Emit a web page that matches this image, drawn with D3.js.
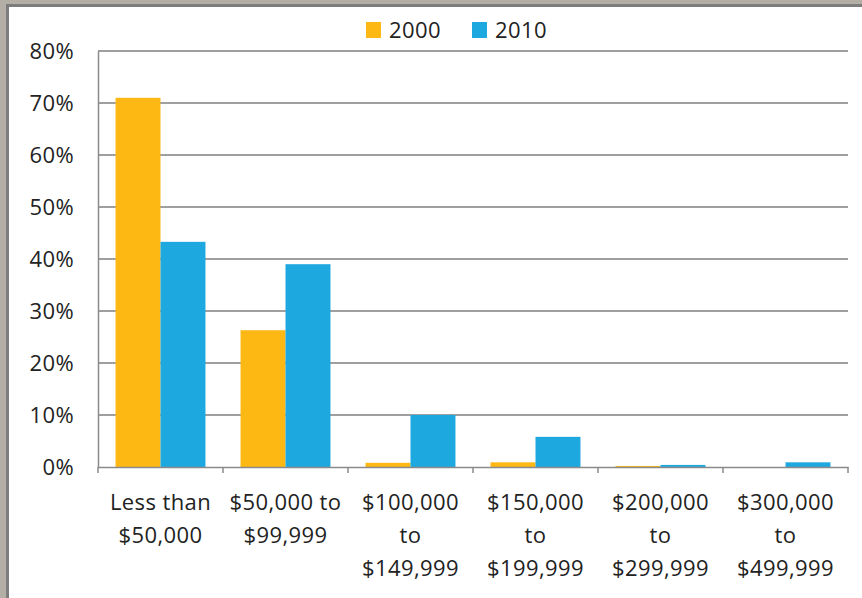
<!DOCTYPE html>
<html>
<head>
<meta charset="utf-8">
<script src="https://cdn.jsdelivr.net/npm/d3@7"></script>
<style>
  body { margin: 0; background: #bdb8b0; }
  svg { display: block; }
  text { font-family: "Open Sans", "Noto Sans", sans-serif; fill: #222; }
</style>
</head>
<body>
<div id="chart"></div>
<script>
// data
const categories = [
  ["Less than", "$50,000"],
  ["$50,000 to", "$99,999"],
  ["$100,000", "to", "$149,999"],
  ["$150,000", "to", "$199,999"],
  ["$200,000", "to", "$299,999"],
  ["$300,000", "to", "$499,999"]
];
const seriesNames = ["2000", "2010"];
const values2000 = [71.0, 26.3, 0.8, 0.9, 0.2, 0.0];
const values2010 = [43.3, 39.0, 10.0, 5.8, 0.4, 0.9];
const yTicks = [0, 10, 20, 30, 40, 50, 60, 70, 80];
const colors = ["#fdb813", "#1ea8e0"];

const width = 862, height = 598;
const margin = {top: 51, right: 14, bottom: 131, left: 98};
const fontSize = "22px";

const svg = d3.select("#chart").append("svg")
    .attr("width", width)
    .attr("height", height);

// frame and white panel
svg.append("rect").attr("width", width).attr("height", height).attr("fill", "#b3aea6");
svg.append("rect").attr("x", 6).attr("y", 4).attr("width", width).attr("height", height)
    .attr("fill", "#7d7d7d");
svg.append("rect").attr("x", 9).attr("y", 7).attr("width", width).attr("height", height)
    .attr("fill", "#ffffff");

const x0 = d3.scaleBand()
    .domain(d3.range(categories.length))
    .range([margin.left, width - margin.right])
    .paddingInner(0)
    .paddingOuter(0);

const x1 = d3.scaleBand()
    .domain(seriesNames)
    .range([0, x0.bandwidth()])
    .paddingInner(0)
    .paddingOuter(0.39);

const y = d3.scaleLinear()
    .domain([0, 80])
    .range([height - margin.bottom, margin.top]);

// gridlines
svg.append("g")
    .selectAll("line")
    .data(yTicks.filter(d => d > 0))
    .enter()
    .append("line")
    .attr("x1", margin.left)
    .attr("x2", width - margin.right)
    .attr("y1", d => y(d))
    .attr("y2", d => y(d))
    .attr("stroke", "#7f7f7f")
    .attr("stroke-width", 1.5);

// y axis
let yAxis = d3.axisLeft(y)
    .tickValues(yTicks)
    .tickSize(0)
    .tickPadding(24)
    .tickFormat(d => d + "%");
let gy = svg.append("g")
    .attr("transform", "translate(" + margin.left + ",0)")
    .call(yAxis);
gy.select(".domain").attr("stroke", "#8a8a8a").attr("stroke-width", 1.5);
gy.selectAll("text")
    .style("font-size", fontSize)
    .style("letter-spacing", "0.4px")
    .attr("fill", "#222");

// bars
const rows = categories.map((c, i) => ({i: i, vals: [values2000[i], values2010[i]]}));
let groups = svg.append("g")
    .selectAll("g")
    .data(rows)
    .enter()
    .append("g")
    .attr("transform", d => "translate(" + x0(d.i) + ",0)");

groups.selectAll("rect")
    .data(d => d.vals.map((v, k) => ({name: seriesNames[k], v: v, k: k})))
    .enter()
    .append("rect")
    .attr("x", d => x1(d.name))
    .attr("y", d => y(d.v))
    .attr("width", x1.bandwidth())
    .attr("height", d => y(0) - y(d.v))
    .attr("fill", d => colors[d.k]);

// x axis
let xAxis = d3.axisBottom(x0).tickSize(0).tickFormat("");
let gx = svg.append("g")
    .attr("transform", "translate(0," + y(0) + ")")
    .call(xAxis);
gx.select(".domain").attr("stroke", "#8a8a8a").attr("stroke-width", 1.5);

// boundary tick marks
svg.append("g")
    .selectAll("line")
    .data(d3.range(categories.length + 1))
    .enter()
    .append("line")
    .attr("x1", i => margin.left + i * x0.step())
    .attr("x2", i => margin.left + i * x0.step())
    .attr("y1", y(0))
    .attr("y2", y(0) + 6)
    .attr("stroke", "#8a8a8a")
    .attr("stroke-width", 1.5);

// category labels
let labels = svg.append("g")
    .selectAll("text")
    .data(categories)
    .enter()
    .append("text")
    .attr("x", (d, i) => x0(i) + x0.bandwidth() / 2)
    .attr("y", y(0) + 43)
    .attr("text-anchor", "middle")
    .style("font-size", fontSize)
    .style("letter-spacing", "0.4px");
labels.selectAll("tspan")
    .data(d => d)
    .enter()
    .append("tspan")
    .attr("x", function () { return d3.select(this.parentNode).attr("x"); })
    .attr("dy", (d, i) => i === 0 ? 0 : 33)
    .text(d => d);

// legend
let legendX = [366, 472];
let legend = svg.append("g")
    .selectAll("g")
    .data(seriesNames)
    .enter()
    .append("g")
    .attr("transform", (d, i) => "translate(" + legendX[i] + ",22)");
legend.append("rect")
    .attr("width", 15)
    .attr("height", 16)
    .attr("fill", (d, i) => colors[i]);
legend.append("text")
    .attr("x", 23)
    .attr("y", 16)
    .style("font-size", fontSize)
    .style("letter-spacing", "0.4px")
    .text(d => d);
</script>
</body>
</html>
